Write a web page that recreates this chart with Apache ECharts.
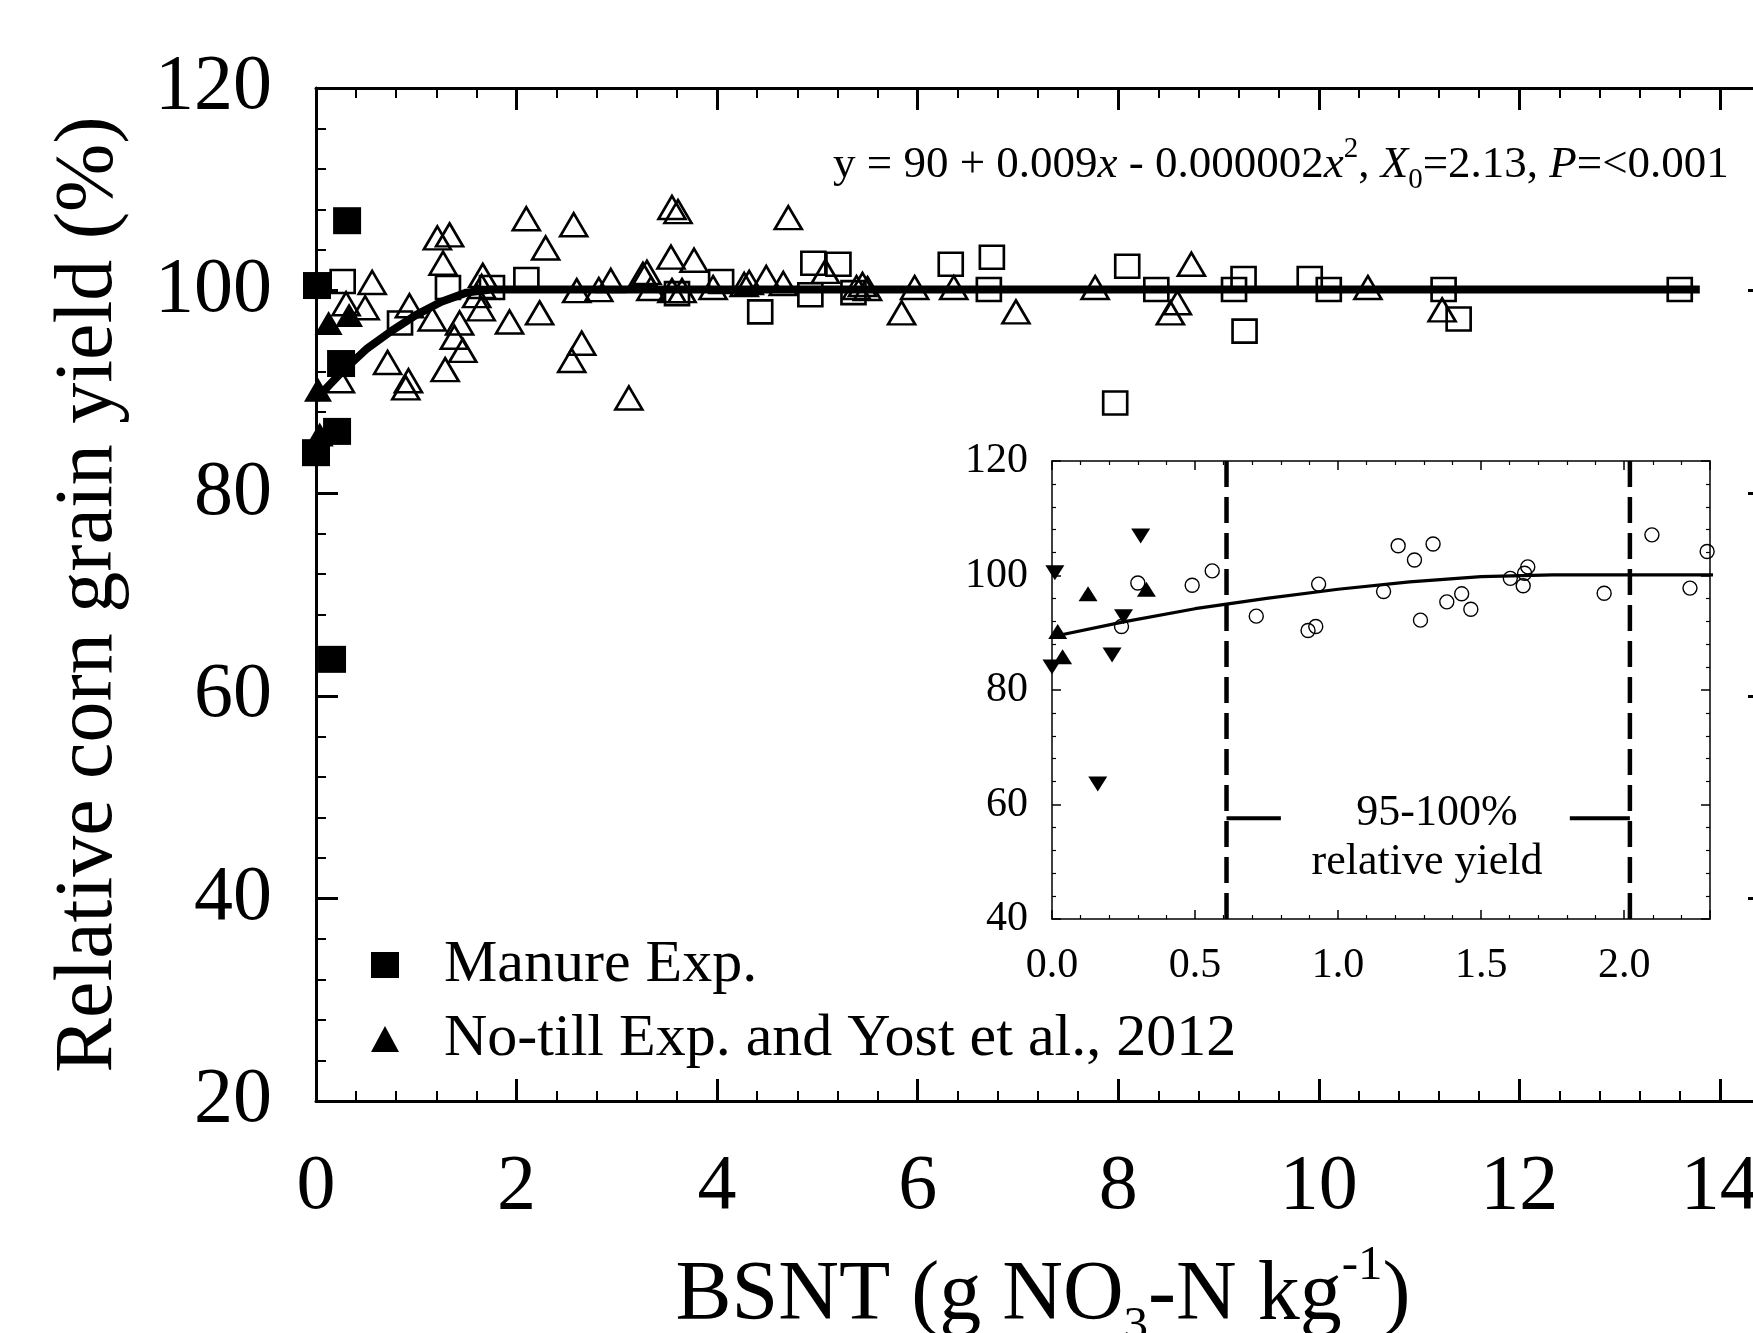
<!DOCTYPE html>
<html>
<head>
<meta charset="utf-8">
<script src="https://cdn.jsdelivr.net/npm/echarts@6/dist/echarts.min.js"></script>
<style>
html,body{margin:0;padding:0;background:#fff;}
#c{width:1753px;height:1333px;}
</style>
</head>
<body>
<div id="c"></div>
<script>
const FONT = '"Liberation Serif", "Times New Roman", serif';

// ---- data ----
const manure = [[0.01,100.5],[0.31,106.9],[0.25,92.8],[0.21,86.1],[0.0,84.0],[0.16,63.6]];
const noTill = [[0.126,96.8],[0.33,97.6],[0.02,90.2],[0.037,85.8]];
const litTriangles = [
  [0.243,91.1],[0.30,98.7],[0.49,98.3],[0.56,100.8],[0.714,92.9],[0.895,90.4],[0.922,91.1],
  [0.932,98.5],[1.159,97.2],[1.21,105.2],[1.267,102.7],[1.288,92.2],[1.332,105.5],[1.38,95.4],
  [1.432,96.8],[1.464,94.1],[1.602,99.5],[1.647,98.2],[1.652,100.4],[1.663,101.5],[1.93,96.9],
  [2.097,107.1],[2.23,97.8],[2.29,104.2],
  [2.55,93.1],[2.57,106.5],[2.6,100.0],[2.65,94.8],[2.82,100.1],[2.94,101.0],[3.12,89.4],
  [3.26,101.6],[3.3,101.8],[3.34,100.2],[3.54,103.3],[3.55,108.2],[3.55,100.0],[3.61,107.8],
  [3.65,100.0],[3.77,103.0],[3.96,100.3],[4.27,100.6],[4.32,100.8],[4.49,101.3],[4.66,100.7],
  [4.71,107.2],[5.08,101.9],[5.39,100.3],[5.45,100.6],[5.5,100.2],[5.84,97.8],[5.97,100.3],
  [6.36,100.3],[6.98,97.9],[7.77,100.3],[8.52,97.8],[8.59,98.8],[8.73,102.6],[10.49,100.3],
  [11.23,98.1]
];
const litSquares = [
  [0.266,100.9],[0.838,96.8],[1.316,100.3],[1.755,100.3],[2.098,101.1],[3.6,99.7],[4.04,100.9],
  [4.43,97.9],[4.93,99.6],[4.96,102.7],[5.21,102.6],[5.36,99.8],[6.33,102.6],[6.71,100.1],
  [6.74,103.3],[7.97,88.9],[8.09,102.4],[8.38,100.1],[9.155,100.1],[9.25,101.2],[9.26,96.0],
  [9.91,101.2],[10.10,100.1],[11.245,100.1],[11.395,97.2],[13.6,100.1]
];
const fitCurve = [[0,89.3],[0.25,91.9],[0.5,94.2],[0.75,96.0],[1.0,97.6],[1.25,98.9],[1.5,99.8],[1.75,100.1],[13.8,100.1]];
const rangeBounds = [0.61, 2.02];
const bracketY = 57.6;
const bracketInner = [0.8, 1.81];

const mainX = {min: 0, max: 14.5, interval: 2};
const mainY = {min: 20, max: 120, interval: 20};
const insetX = {min: 0, max: 2.3, interval: 0.5};
const insetY = {min: 40, max: 120, interval: 20};

const equation = '{n|y = 90 + 0.009}{i|x}{n| - 0.000002}{i|x}{sup|2}{n|, }{i|X}{sub|0}{n|=2.13, }{i|P}{n|=<0.001}';

// ---- chart ----
const chart = echarts.init(document.getElementById('c'), null, {renderer: 'canvas'});

function mainAxisCommon(extra) {
  return Object.assign({
    type: 'value',
    gridIndex: 0,
    axisLine: {show: true, onZero: false, lineStyle: {color: '#000', width: 3}},
    axisTick: {show: true, inside: true, length: 22, lineStyle: {color: '#000', width: 3}},
    minorTick: {show: true, splitNumber: 5, length: 10, lineStyle: {color: '#000', width: 2}},
    splitLine: {show: false},
    minorSplitLine: {show: false}
  }, extra);
}
function insetAxisCommon(extra) {
  return Object.assign({
    type: 'value',
    gridIndex: 1,
    axisLine: {show: true, onZero: false, lineStyle: {color: '#000', width: 1.5}},
    axisTick: {show: true, inside: true, length: 9, lineStyle: {color: '#000', width: 1.5}},
    minorTick: {show: true, splitNumber: 5, length: 4, lineStyle: {color: '#000', width: 1.2}},
    splitLine: {show: false},
    minorSplitLine: {show: false}
  }, extra);
}

const filled = {color: '#000', opacity: 1};
const hollow = (w) => ({color: 'rgba(255,255,255,0)', borderColor: '#000', borderWidth: w, opacity: 1});

const option = {
  animation: false,
  backgroundColor: '#fff',
  grid: [
    {left: 316, top: 88, width: 1454, height: 1013, containLabel: false, outerBoundsMode: 'none'},
    {left: 1052, top: 461, width: 658, height: 458, containLabel: false, outerBoundsMode: 'none'}
  ],
  xAxis: [
    mainAxisCommon({
      position: 'bottom', min: mainX.min, max: mainX.max, interval: mainX.interval,
      axisLabel: {margin: 48, fontSize: 78, fontFamily: FONT, color: '#000',
        formatter: v => (Math.abs(v % 2) < 1e-9 ? String(v) : '')},
      name: '{a|BSNT (g NO}{sub|3}{a|-N kg}{sup|-1}{a|)}',
      nameLocation: 'middle', nameGap: 141,
      nameTextStyle: {
        color: '#000', fontFamily: FONT, fontSize: 84,
        rich: {
          a: {fontSize: 84, fontFamily: FONT, color: '#000', lineHeight: 110},
          sub: {fontSize: 49, fontFamily: FONT, color: '#000', lineHeight: 40, verticalAlign: 'bottom'},
          sup: {fontSize: 49, fontFamily: FONT, color: '#000', lineHeight: 80, verticalAlign: 'top'}
        }
      }
    }),
    mainAxisCommon({
      position: 'top', min: mainX.min, max: mainX.max, interval: mainX.interval,
      axisLabel: {show: false}
    }),
    insetAxisCommon({
      position: 'bottom', min: insetX.min, max: insetX.max, interval: insetX.interval,
      axisLabel: {margin: 26, fontSize: 42, fontFamily: FONT, color: '#000',
        formatter: v => (Math.abs(v * 2 - Math.round(v * 2)) < 1e-9 ? v.toFixed(1) : '')}
    }),
    insetAxisCommon({
      position: 'top', min: insetX.min, max: insetX.max, interval: insetX.interval,
      axisLabel: {show: false}
    })
  ],
  yAxis: [
    mainAxisCommon({
      position: 'left', min: mainY.min, max: mainY.max, interval: mainY.interval,
      axisLabel: {margin: 44, fontSize: 78, fontFamily: FONT, color: '#000'},
      name: 'Relative corn grain yield (%)',
      nameLocation: 'middle', nameGap: 186,
      nameTextStyle: {color: '#000', fontFamily: FONT, fontSize: 82}
    }),
    mainAxisCommon({
      position: 'right', min: mainY.min, max: mainY.max, interval: mainY.interval,
      axisLabel: {show: false}
    }),
    insetAxisCommon({
      gridIndex: 1, position: 'left', min: insetY.min, max: insetY.max, interval: insetY.interval,
      axisLabel: {margin: 24, fontSize: 42, fontFamily: FONT, color: '#000'}
    }),
    insetAxisCommon({
      gridIndex: 1, position: 'right', min: insetY.min, max: insetY.max, interval: insetY.interval,
      axisLabel: {show: false}
    })
  ],
  legend: {
    orient: 'vertical', left: 366, top: 930,
    itemWidth: 28, itemHeight: 26, itemGap: 14,
    selectedMode: false,
    itemStyle: {opacity: 1},
    textStyle: {fontSize: 60, fontFamily: FONT, color: '#000', padding: [0, 0, 0, 40]},
    data: [
      {name: 'Manure Exp.', icon: 'rect'},
      {name: 'No-till Exp. and Yost et al., 2012', icon: 'triangle'}
    ]
  },
  graphic: [
    {type: 'text', x: 833, y: 165, z: 50,
      style: {text: equation, align: 'left', verticalAlign: 'middle', fill: '#000',
        font: '45px ' + FONT,
        rich: {
          n: {fontSize: 45, fontFamily: FONT, fill: '#000', lineHeight: 60},
          i: {fontSize: 45, fontFamily: FONT, fontStyle: 'italic', fill: '#000', lineHeight: 60},
          sup: {fontSize: 29, fontFamily: FONT, fill: '#000', lineHeight: 36, verticalAlign: 'top'},
          sub: {fontSize: 29, fontFamily: FONT, fill: '#000', lineHeight: 30, verticalAlign: 'bottom'}
        }}},
    {type: 'text', x: 1437, y: 813, z: 50,
      style: {text: '95-100%', align: 'center', verticalAlign: 'middle', fill: '#000', font: '44px ' + FONT}},
    {type: 'text', x: 1427, y: 862, z: 50,
      style: {text: 'relative yield', align: 'center', verticalAlign: 'middle', fill: '#000', font: '44px ' + FONT}}
  ],
  series: [
    {type: 'scatter', name: 'litSquares', xAxisIndex: 0, yAxisIndex: 0, data: litSquares,
      symbol: 'rect', symbolSize: [24, 23], z: 2, silent: true, itemStyle: hollow(2.6)},
    {type: 'scatter', name: 'litTriangles', xAxisIndex: 0, yAxisIndex: 0, data: litTriangles,
      symbol: 'triangle', symbolSize: [27, 23], z: 2, silent: true, itemStyle: hollow(2.6)},
    {type: 'line', name: 'fitMain', xAxisIndex: 0, yAxisIndex: 0, data: fitCurve,
      symbol: 'none', z: 3, silent: true, lineStyle: {color: '#000', width: 8}},
    {type: 'scatter', name: 'Manure Exp.', xAxisIndex: 0, yAxisIndex: 0, data: manure,
      symbol: 'rect', symbolSize: [28, 27], z: 4, itemStyle: filled},
    {type: 'scatter', name: 'No-till Exp. and Yost et al., 2012', xAxisIndex: 0, yAxisIndex: 0, data: noTill,
      symbol: 'triangle', symbolSize: [28, 24], z: 4, itemStyle: filled},

    // inset
    {type: 'line', name: 'boundLo', xAxisIndex: 2, yAxisIndex: 2, symbol: 'none', silent: true,
      data: [[rangeBounds[0], insetY.min], [rangeBounds[0], insetY.max]],
      lineStyle: {color: '#000', width: 4.5, type: [26, 10]}},
    {type: 'line', name: 'boundHi', xAxisIndex: 2, yAxisIndex: 2, symbol: 'none', silent: true,
      data: [[rangeBounds[1], insetY.min], [rangeBounds[1], insetY.max]],
      lineStyle: {color: '#000', width: 4.5, type: [26, 10]}},
    {type: 'line', name: 'bracketLo', xAxisIndex: 2, yAxisIndex: 2, symbol: 'none', silent: true,
      data: [[rangeBounds[0], bracketY], [bracketInner[0], bracketY]],
      lineStyle: {color: '#000', width: 4}},
    {type: 'line', name: 'bracketHi', xAxisIndex: 2, yAxisIndex: 2, symbol: 'none', silent: true,
      data: [[bracketInner[1], bracketY], [rangeBounds[1], bracketY]],
      lineStyle: {color: '#000', width: 4}},
    {type: 'line', name: 'fitInset', xAxisIndex: 2, yAxisIndex: 2, data: fitCurve,
      symbol: 'none', silent: true, lineStyle: {color: '#000', width: 3.2}},
    {type: 'scatter', name: 'litInset', xAxisIndex: 2, yAxisIndex: 2, data: litTriangles,
      symbol: 'circle', symbolSize: 14, silent: true, itemStyle: hollow(1.4)},
    {type: 'scatter', name: 'manureInset', xAxisIndex: 2, yAxisIndex: 2, data: manure,
      symbol: 'triangle', symbolRotate: 180, symbolSize: [19, 15], silent: true, z: 4, itemStyle: filled},
    {type: 'scatter', name: 'noTillInset', xAxisIndex: 2, yAxisIndex: 2, data: noTill,
      symbol: 'triangle', symbolSize: [19, 15], silent: true, z: 4, itemStyle: filled}
  ]
};
chart.setOption(option);
</script>
</body>
</html>
